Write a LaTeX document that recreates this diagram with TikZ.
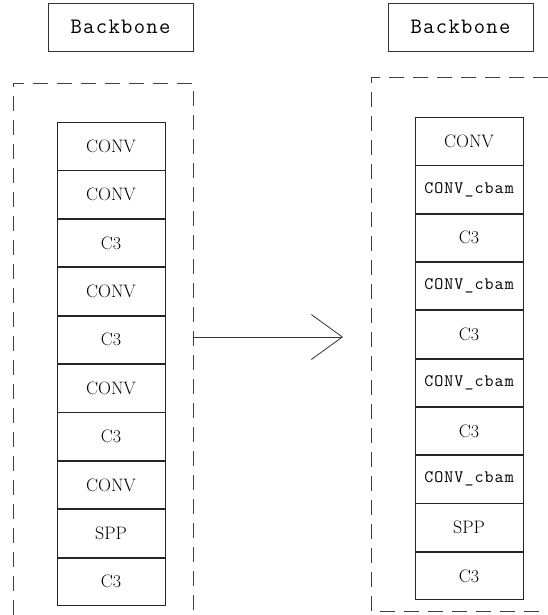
\documentclass[tikz,border=0pt]{standalone}
\usepackage{fontspec}
\newfontfamily\monofont{Latin Modern Mono}[LetterSpace=6]
\usetikzlibrary{arrows.meta}
\tikzset{
  cell/.style={draw=black!85, line width=0.8pt, minimum width=108pt, minimum height=47.6pt, inner sep=0pt, anchor=north, font=\fontsize{18}{18}\selectfont},
  cbam/.style={font=\monofont\fontsize{17.5}{17.5}\selectfont},
  title/.style={draw=black!80, line width=0.8pt, minimum width=145pt, minimum height=48pt, inner sep=0pt, font=\monofont\fontsize{22}{22}\selectfont},
  group/.style={draw=black!75, line width=0.9pt, dash pattern=on 15pt off 9pt},
  conn/.style={draw=black!80, line width=0.8pt, -{Straight Barb[length=31pt, width=45pt, line width=0.8pt]}}
}
\begin{document}
\begin{tikzpicture}[x=1pt, y=-1pt]
\useasboundingbox (0,0) rectangle (548,615);
\fill[white] (0,0) rectangle (548,615);
% titles
\node[title] (t1) at (120.5,27) {Backbone};
\node[title] (t2) at (460.5,27) {Backbone};
% groups (their far sides lie outside the picture)
\draw[group] (13,615) -- (13,83) -- (193,83) -- (193,615);
\draw[group] (548,77) -- (371,77) -- (371,611) -- (548,611);
% left stack
\node[cell] (l1) at (111,122) {CONV};
\node[cell] (l2) at (l1.south) {CONV};
\node[cell] (l3) at (l2.south) {C3};
\node[cell] (l4) at (l3.south) {CONV};
\node[cell] (l5) at (l4.south) {C3};
\node[cell] (l6) at (l5.south) {CONV};
\node[cell] (l7) at (l6.south) {C3};
\node[cell] (l8) at (l7.south) {CONV};
\node[cell] (l9) at (l8.south) {SPP};
\node[cell] (l10) at (l9.south) {C3};
% right stack
\node[cell, minimum height=47.5pt] (r1) at (469,117) {CONV};
\node[cell, cbam, minimum height=47.5pt] (r2) at (r1.south) {CONV\_cbam};
\node[cell, minimum height=47.5pt] (r3) at (r2.south) {C3};
\node[cell, cbam, minimum height=47.5pt] (r4) at (r3.south) {CONV\_cbam};
\node[cell, minimum height=47.5pt] (r5) at (r4.south) {C3};
\node[cell, cbam, minimum height=47.5pt] (r6) at (r5.south) {CONV\_cbam};
\node[cell, minimum height=47.5pt] (r7) at (r6.south) {C3};
\node[cell, cbam, minimum height=47.5pt] (r8) at (r7.south) {CONV\_cbam};
\node[cell, minimum height=47.5pt] (r9) at (r8.south) {SPP};
\node[cell, minimum height=47.5pt] (r10) at (r9.south) {C3};
% arrow
\coordinate (as) at (193,337);
\coordinate (ae) at (343,337);
\draw[conn] (as) -- (ae);
\end{tikzpicture}
\end{document}
